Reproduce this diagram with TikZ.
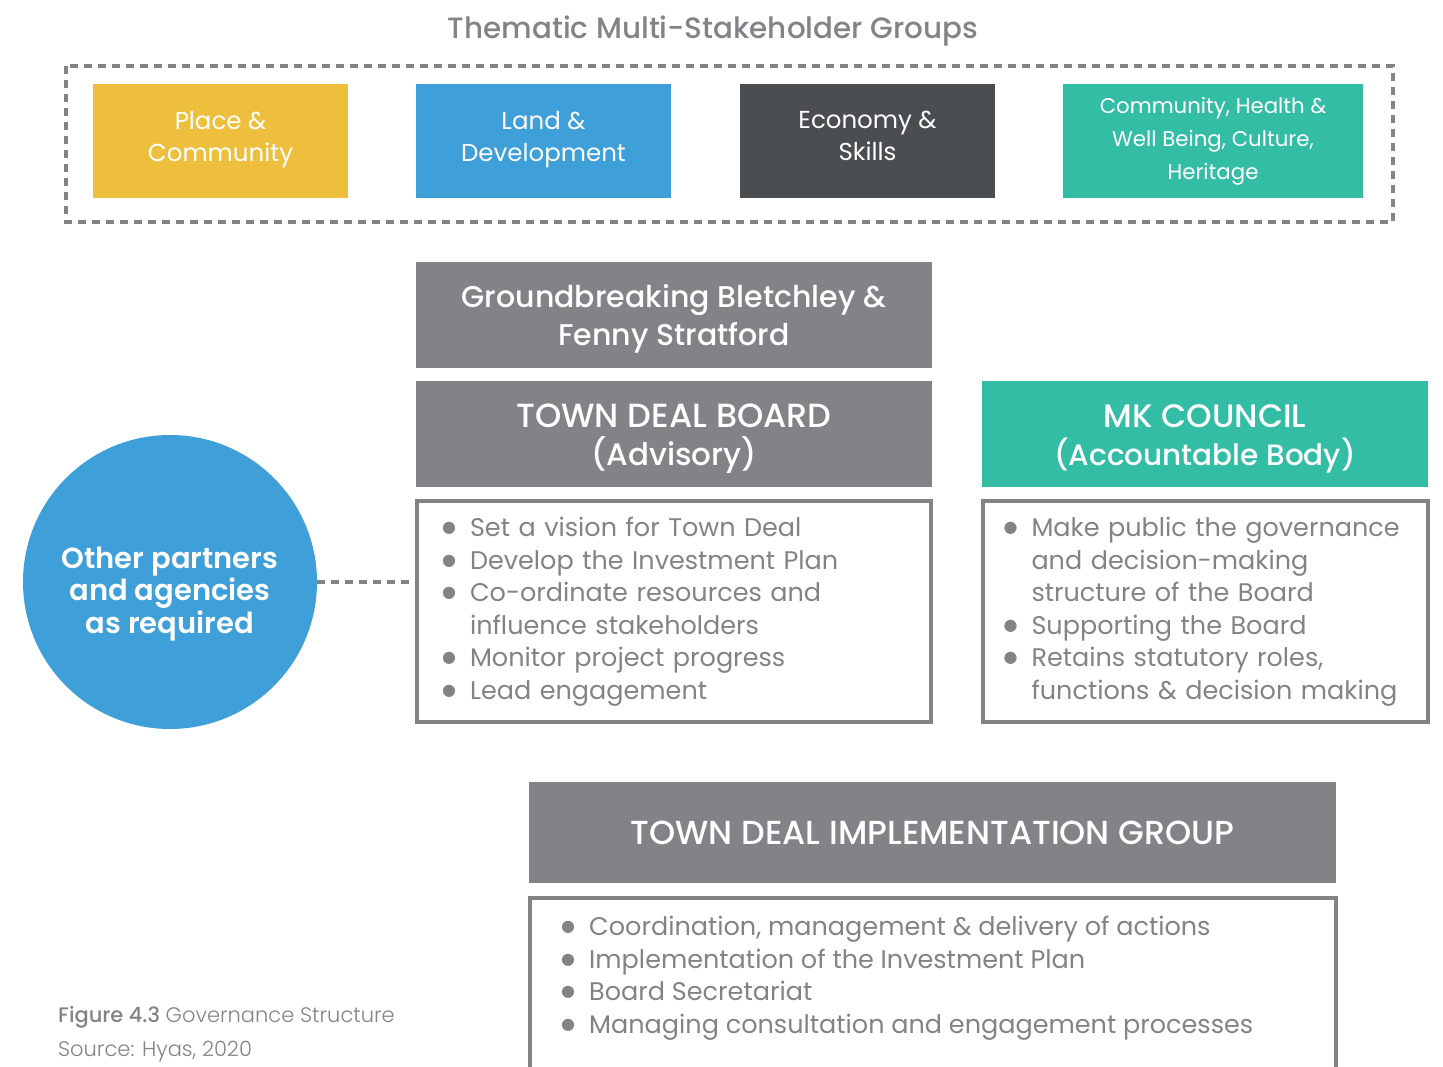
\documentclass[tikz,border=0pt]{standalone}
\usepackage{fontspec}
\setmainfont{Poppins}
\newfontfamily\popmed{Poppins Medium}
\newfontfamily\popsemi{Poppins SemiBold}
\newfontfamily\poplight{Poppins Light}
\newfontfamily\dejavu{DejaVu Sans}
\usetikzlibrary{positioning}
\definecolor{tdgray}{HTML}{818386}
\definecolor{tdyellow}{HTML}{EDBF3C}
\definecolor{tdblue}{HTML}{3E9FD9}
\definecolor{tddark}{HTML}{4B4E50}
\definecolor{tdteal}{HTML}{34BDA5}
\newcommand{\sized}[2]{\fontsize{#1}{#2}\selectfont}
\newcommand{\bul}{\makebox[28pt][l]{\raisebox{4pt}{\dejavu\sized{16}{16}●}}}
\newcommand{\hang}{\hspace*{28pt}}

\begin{document}
\begin{tikzpicture}[
    x=1pt, y=-1pt,
    theme/.style={minimum width=255pt, minimum height=114pt, inner sep=0pt, outer sep=0pt, align=center, text=white, font=\sized{24.5}{32}},
    head/.style={fill=tdgray, minimum width=516pt, minimum height=106pt, inner sep=0pt, outer sep=0pt, align=center, text=white, text height=62pt, text depth=0pt, font=\popmed\sized{31}{38}},
    listbox/.style={draw=tdgray, line width=4pt, inner sep=0pt, outer sep=0pt, align=left, text=tdgray, font=\sized{25.5}{32.5}},
    partner/.style={circle, fill=tdblue, minimum size=294pt, inner sep=0pt},
    frame/.style={draw=tdgray, line width=4.5pt, dash pattern=on 8pt off 6pt},
    link/.style={draw=tdgray, line width=4.5pt, dash pattern=on 8pt off 6pt},
  ]
    \useasboundingbox (0,0) rectangle (1443,1067);

    % thematic groups
    \node[text=tdgray, font=\popmed\sized{29.4}{32}] (title) at (713,31) {Thematic Multi-Stakeholder Groups};
    \node[theme, fill=tdyellow] (place) at (220.5,141) {Place \&\\Community\strut};
    \node[theme, fill=tdblue, right=68pt of place] (land) {Land \&\\Development\strut};
    \node[theme, fill=tddark, right=69pt of land] (economy) {Economy \&\\Skills\strut};
    \node[theme, fill=tdteal, minimum width=300pt, right=68pt of economy, font=\sized{21.3}{33}] (wellbeing) {Community, Health \&\\Well Being, Culture,\\Heritage};
    \draw[frame] (66,66) rectangle (1393,222);

    % board and council
    \node[head, text height=60pt, font=\popmed\sized{30}{38}] (ground) at (674,315) {Groundbreaking Bletchley \&\\Fenny Stratford};
    \node[head, below=13pt of ground] (board) {\sized{33.5}{38}TOWN DEAL BOARD\\\sized{31}{38}(Advisory)};
    \node[listbox, minimum width=514pt, minimum height=221pt, text width=464pt, below=14pt of board] (boardlist) {\bul Set a vision for Town Deal\\\bul Develop the Investment Plan\\\bul Co-ordinate resources and\\\hang influence stakeholders\\\bul Monitor project progress\\\bul Lead engagement};
    \node[head, fill=tdteal, minimum width=446pt, right=50pt of board] (council) {\sized{32.5}{38}MK COUNCIL\\\sized{29.5}{38}(Accountable Body)};
    \node[listbox, minimum width=445pt, minimum height=221pt, text width=403pt, below=14pt of council] (councillist) {\bul Make public the governance\\\hang and decision-making\\\hang structure of the Board\\\bul Supporting the Board\\\bul Retains statutory roles,\\\hang functions \& decision making};

    % partners
    \node[partner] (partners) at (170,582) {};
    \node[align=center, text=white, font=\popsemi\sized{29}{32.5}] (partnertext) at (170,594) {Other partners\\and agencies\\as required};
    \draw[link] (partners.east) -- (partners.east -| boardlist.west);

    % implementation
    \node[head, minimum width=807pt, minimum height=101pt, text height=, text depth=, font=\popmed\sized{33.3}{38}] (impl) at (932.5,832.5) {TOWN DEAL IMPLEMENTATION GROUP};
    \node[listbox, minimum width=806pt, minimum height=230pt, below=15pt of impl] (impllist) {};
    \node[anchor=north west, inner sep=0pt, align=left, text=tdgray, font=\sized{25.5}{32.5}] (impltext) at (561,916) {\bul Coordination, management \& delivery of actions\\\bul Implementation of the Investment Plan\\\bul Board Secretariat\\\bul Managing consultation and engagement processes};

    % caption
    \node[anchor=west, inner sep=0pt, text=tdgray, font=\sized{21}{26}] (caption) at (58,1017) {{\popmed Figure 4.3} {\poplight Governance Structure}};
    \node[anchor=west, inner sep=0pt, text=tdgray, font=\poplight\sized{21}{26}] (source) at (58,1052) {Source: Hyas, 2020};
\end{tikzpicture}
\end{document}
